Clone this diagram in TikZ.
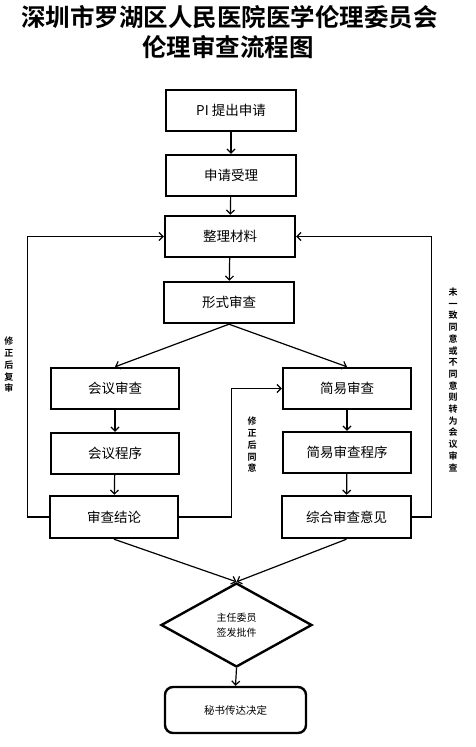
\documentclass[tikz,border=0pt]{standalone}
\usepackage{fontspec}
\setmainfont{Noto Sans CJK SC}
\newfontfamily\cjkbold{Noto Sans CJK SC Bold}
\usetikzlibrary{shapes.geometric,arrows.meta}
\newcommand{\vstack}[1]{\begin{tabular}{@{}c@{}}#1\end{tabular}}
\begin{document}
\begin{tikzpicture}[x=1pt,y=-1pt,
  box/.style={draw,line width=2.4pt,minimum width=129pt,minimum height=41pt,inner sep=0pt,font=\fontsize{13.5}{15}\selectfont},
  conn/.style={line width=1.2pt,-{Straight Barb[length=4pt,width=8pt]}},
  plain/.style={line width=1.2pt},
  side/.style={font=\cjkbold\fontsize{9}{11.7}\selectfont,inner sep=0pt,align=center},
  title/.style={font=\cjkbold\fontsize{24.5}{27}\selectfont,inner sep=0pt}]
\useasboundingbox[fill=white] (0,0) rectangle (475,747);
\node[title] (t1) at (229.5,17) {深圳市罗湖区人民医院医学伦理委员会};
\node[title] (t2) at (228,47) {伦理审查流程图};
\node[box,minimum width=130pt] (b1) at (231,110.5) {PI 提出申请};
\node[box,minimum width=130pt] (b2) at (231,175.5) {申请受理};
\node[box,minimum width=130pt] (b3) at (230,236.5) {整理材料};
\node[box,minimum width=130pt] (b4) at (229,302.5) {形式审查};
\node[box,minimum width=128pt] (hy1) at (115,388.5) {会议审查};
\node[box,minimum width=128pt] (hy2) at (115,453.5) {会议程序};
\node[box,minimum width=128pt,minimum height=42pt] (jl) at (114,517) {审查结论};
\node[box,minimum width=128pt] (jy1) at (347,388.5) {简易审查};
\node[box,minimum width=128pt] (jy2) at (347,452.5) {简易审查程序};
\node[box,minimum width=129pt,minimum height=42pt] (zh) at (346.5,517) {综合审查意见};
\node[diamond,draw,line width=2.4pt,minimum width=151pt,minimum height=84pt,inner sep=0pt,align=center,font=\fontsize{10}{15}\selectfont] (dia) at (236.5,625) {主任委员\\签发批件};
\node[draw,line width=2.4pt,rounded corners=8pt,minimum width=141pt,minimum height=46pt,inner sep=0pt,font=\fontsize{10.5}{12}\selectfont] (fin) at (235.5,710) {秘书传达决定};
\draw[conn] (b1) -- (b2);
\draw[conn] (b2) -- (b3);
\draw[conn] (b3) -- (b4);
\draw[conn] (b4.south) -- (hy1.north);
\draw[conn] (b4.south) -- (jy1.north);
\draw[conn] (hy1) -- (hy2);
\draw[conn] (hy2) -- (jl);
\draw[conn] (jy1) -- (jy2);
\draw[conn] (jy2) -- (zh);
\draw[conn] (jl.west) -- ++(-21,0) |- (b3.west);
\draw[conn] (zh.east) -- ++(19.5,0) |- (b3.east);
\draw[conn] (jl.east) -- ++(52,0) |- (jy1.west);
\draw[conn] (jl.south) -- (dia.north);
\draw[conn] (zh.south) -- (dia.north);
\draw[conn] (dia.south) -- (fin.north);
\node[side] (l1) at (9,366) {\vstack{修\\正\\后\\复\\审}};
\node[side] (l2) at (252,446) {\vstack{修\\正\\后\\同\\意}};
\node[side] (l3) at (453,381) {\vstack{未\\一\\致\\同\\意\\或\\不\\同\\意\\则\\转\\为\\会\\议\\审\\查}};
\end{tikzpicture}
\end{document}
